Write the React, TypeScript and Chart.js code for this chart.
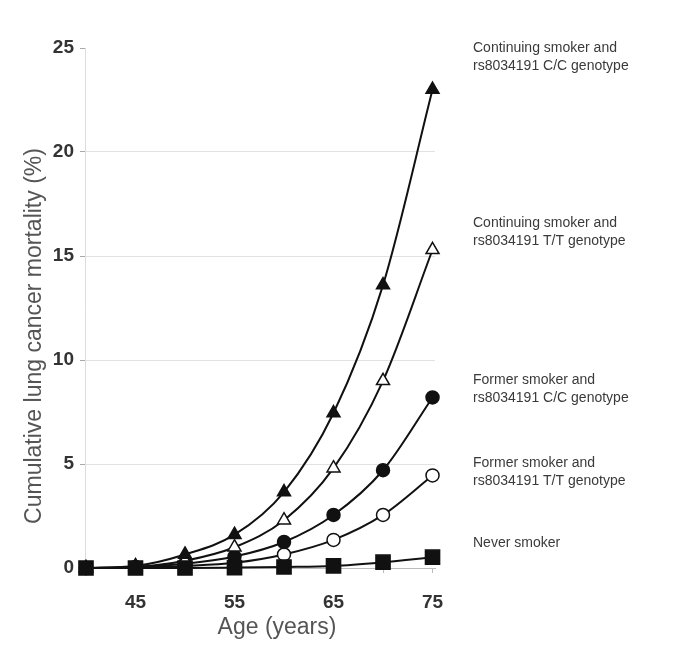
import React, { useEffect, useRef } from "react";
import { Chart, registerables } from "chart.js";

Chart.register(...registerables);

const ages = [40, 45, 50, 55, 60, 65, 70, 75];
const continuingCC = [0, 0.1, 0.65, 1.6, 3.65, 7.45, 13.6, 23.0];
const continuingTT = [0, 0.05, 0.35, 1.0, 2.3, 4.8, 9.0, 15.3];
const formerCC = [0, 0.05, 0.2, 0.55, 1.25, 2.55, 4.7, 8.2];
const formerTT = [0, 0.02, 0.1, 0.25, 0.65, 1.35, 2.55, 4.45];
const neverSmoker = [0, 0, 0, 0.02, 0.05, 0.1, 0.28, 0.52];

const xTickValues = [40, 45, 50, 55, 60, 65, 70, 75];
const xLabeledTicks = [45, 55, 65, 75];
const yTicks = [0, 5, 10, 15, 20, 25];

const seriesLabels = [
  ["Continuing smoker and", "rs8034191 C/C genotype"],
  ["Continuing smoker and", "rs8034191 T/T genotype"],
  ["Former smoker and", "rs8034191 C/C genotype"],
  ["Former smoker and", "rs8034191 T/T genotype"],
  ["Never smoker"],
];
const seriesLabelAnchors = [25.0, 16.6, 9.05, 5.05, 1.2];

const xTitle = "Age (years)";
const yTitle = "Cumulative lung cancer mortality (%)";

const pts = (vals: number[]) => vals.map((v, i) => ({ x: ages[i], y: v }));

export default function App() {
  const ref = useRef<HTMLCanvasElement | null>(null);
  useEffect(() => {
    document.body.style.margin = "0";
    const canvas = ref.current!;
    const ink = "#111";
    const labelsPlugin = {
      id: "labelsPlugin",
      afterDraw(chart: any) {
        const ctx = chart.ctx;
        const y = chart.scales.y;
        ctx.save();
        ctx.font = "14px 'Liberation Sans', Arial, sans-serif";
        ctx.fillStyle = "#3a3a3a";
        ctx.textAlign = "left";
        ctx.textBaseline = "middle";
        seriesLabels.forEach((lines, i) => {
          const py = y.getPixelForValue(seriesLabelAnchors[i]);
          lines.forEach((t, j) => ctx.fillText(t, 473, py + j * 18.5));
        });
        ctx.font = "23px 'Liberation Sans', Arial, sans-serif";
        ctx.fillStyle = "#555";
        ctx.textAlign = "center";
        ctx.fillText(xTitle, 277, 628);
        ctx.translate(35, 336);
        ctx.rotate(-Math.PI / 2);
        ctx.fillText(yTitle, 0, 0);
        ctx.restore();
      },
    };
    const mk = (label: string, data: number[], style: string, fill: string, radius: number) => ({
      label,
      data: pts(data),
      borderColor: ink,
      borderWidth: 2,
      pointStyle: style,
      pointRadius: radius,
      pointBackgroundColor: fill,
      pointBorderColor: ink,
      pointBorderWidth: 1.5,
      cubicInterpolationMode: "monotone" as const,
      fill: false,
      clip: false as any,
    });
    const chart = new Chart(canvas, {
      type: "line",
      data: {
        datasets: [
          mk("Never smoker", neverSmoker, "rect", ink, 10),
          mk("Continuing smoker and rs8034191 C/C genotype", continuingCC, "triangle", ink, 7.5),
          mk("Continuing smoker and rs8034191 T/T genotype", continuingTT, "triangle", "#fff", 7.5),
          mk("Former smoker and rs8034191 C/C genotype", formerCC, "circle", ink, 6.5),
          mk("Former smoker and rs8034191 T/T genotype", formerTT, "circle", "#fff", 6.5),
        ],
      },
      options: {
        responsive: false,
        animation: false,
        devicePixelRatio: 1,
        layout: { padding: { left: 0, right: 250, top: 48, bottom: 0 } },
        plugins: { legend: { display: false }, tooltip: { enabled: false } },
        scales: {
          x: {
            type: "linear",
            min: 39.9,
            max: 75.25,
            afterBuildTicks: (s: any) => {
              s.ticks = xTickValues.map((v) => ({ value: v }));
            },
            afterFit: (s: any) => {
              s.height = 86;
            },
            ticks: {
              callback: (v: any) => (xLabeledTicks.includes(Number(v)) ? String(v) : ""),
              font: { family: "'Liberation Sans', Arial, sans-serif", size: 19, weight: "bold" },
              color: "#333",
              padding: 18,
              maxRotation: 0,
              autoSkip: false,
            },
            grid: { drawOnChartArea: false, tickLength: 5, tickColor: "#bbb" },
            border: { color: "#bbb", width: 1 },
          },
          y: {
            min: 0,
            max: 25,
            afterBuildTicks: (s: any) => {
              s.ticks = yTicks.map((v) => ({ value: v }));
            },
            afterFit: (s: any) => {
              s.width = 85;
            },
            ticks: {
              font: { family: "'Liberation Sans', Arial, sans-serif", size: 19, weight: "bold" },
              color: "#333",
              padding: 6,
            },
            grid: {
              color: (c: any) => (c.tick && c.tick.value === 25 ? "rgba(0,0,0,0)" : "#e2e2e2"),
              tickColor: "#aaa",
              tickLength: 5,
            },
            border: { color: "#ddd", width: 1 },
          },
        },
      },
      plugins: [labelsPlugin],
    });
    return () => chart.destroy();
  }, []);
  return (
    <div style={{ width: 685, height: 654, background: "#fff" }}>
      <canvas ref={ref} width={685} height={654} />
    </div>
  );
}
